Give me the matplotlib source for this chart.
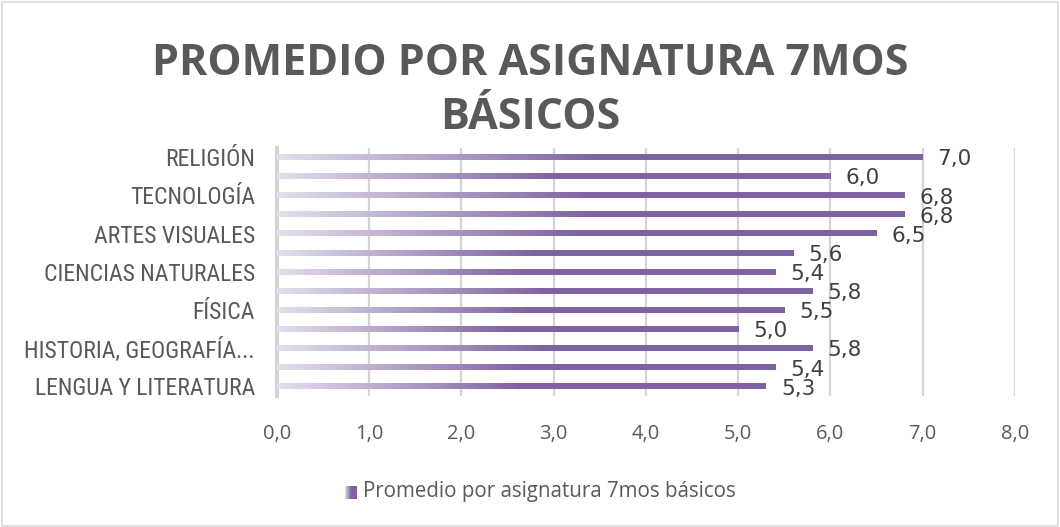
import numpy as np
import matplotlib
matplotlib.use("Agg")
from matplotlib import pyplot as plt
from matplotlib import font_manager
from matplotlib.colors import LinearSegmentedColormap
from matplotlib.patches import Rectangle
from matplotlib.transforms import ScaledTranslation

# datos (de abajo hacia arriba)
asignaturas = ["LENGUA Y LITERATURA", "MATEMÁTICA", "HISTORIA, GEOGRAFÍA...", "INGLÉS",
               "FÍSICA", "QUÍMICA", "CIENCIAS NATURALES", "BIOLOGÍA",
               "ARTES VISUALES", "MÚSICA", "TECNOLOGÍA", "EDUCACIÓN FÍSICA", "RELIGIÓN"]
promedios = [5.3, 5.4, 5.8, 5.0, 5.5, 5.8, 5.4, 5.6, 6.5, 6.8, 6.8, 6.0, 7.0]
serie = "Promedio por asignatura 7mos básicos"
titulo = "PROMEDIO POR ASIGNATURA 7MOS\nBÁSICOS"
x_ticks = [0, 1, 2, 3, 4, 5, 6, 7, 8]

gris = "#595959"
claro = "#e4deed"
morado = "#7f63a1"
cmap = LinearSegmentedColormap.from_list("grad", [(0, claro), (0.5, morado), (1, morado)])
grad = np.linspace(0, 1, 256).reshape(1, -1)

# fuente estrecha si existe
fuente_y, tam_y = "Roboto", 14.5
for nombre in ["Liberation Sans Narrow", "Roboto Condensed"]:
    try:
        font_manager.findfont(nombre, fallback_to_default=False)
        fuente_y, tam_y = nombre, 17
        break
    except ValueError:
        pass

fig = plt.figure(figsize=(10.6, 5.27), dpi=100)
fig.patches.append(Rectangle((0.002, 0.002), 0.996, 0.994, transform=fig.transFigure,
                             fill=False, edgecolor="#d9d9d9", linewidth=1.2))

ax = fig.add_axes([0.2613, 0.2486, 0.6962, 0.4715])
y = np.arange(len(promedios))
h = 0.31
desplaz = ScaledTranslation(15 / 100, 0, fig.dpi_scale_trans)
for yi, v in zip(y, promedios):
    ax.imshow(grad, cmap=cmap, aspect="auto", extent=[0, v, yi - h / 2, yi + h / 2],
              interpolation="bilinear", zorder=3)
    ax.text(v, yi - 0.12, f"{v:.1f}".replace(".", ","), color="#404040", fontsize=15.5,
            family="DejaVu Sans", va="center", ha="left", zorder=4,
            transform=ax.transData + desplaz)

ax.set_xlim(0, 8)
ax.set_ylim(-0.5, len(promedios) - 0.5)
ax.set_xticks(x_ticks)
ax.set_xticklabels([f"{t:.1f}".replace(".", ",") for t in x_ticks], family="Open Sans",
                   fontsize=14.5, color=gris)
ax.set_yticks(y[::2])
ax.set_yticklabels(asignaturas[::2], family=fuente_y, fontsize=tam_y, color=gris)
ax.tick_params(length=0)
ax.tick_params(axis="y", pad=16)
ax.tick_params(axis="x", pad=20)
ax.grid(axis="x", color="#d4d4d4", linewidth=1.6, zorder=0)
for s in ["top", "right", "bottom"]:
    ax.spines[s].set_visible(False)
ax.spines["left"].set_color("#d4d4d4")
ax.spines["left"].set_linewidth(3)
ax.set_axisbelow(True)

fig.text(0.5, 0.828, titulo, ha="center", va="center", fontsize=31, fontweight="bold",
         family="Open Sans", color=gris, linespacing=1.32)

# leyenda
lax = fig.add_axes([345 / 1060, 1 - 499 / 527, 12 / 1060, 13 / 527])
lax.imshow(grad, cmap=cmap, aspect="auto", interpolation="bilinear")
lax.axis("off")
fig.text(363 / 1060, 1 - 492 / 527, serie, ha="left", va="center", fontsize=14.8,
         family="Open Sans", color=gris)

fig.savefig("out.png", dpi=100)
